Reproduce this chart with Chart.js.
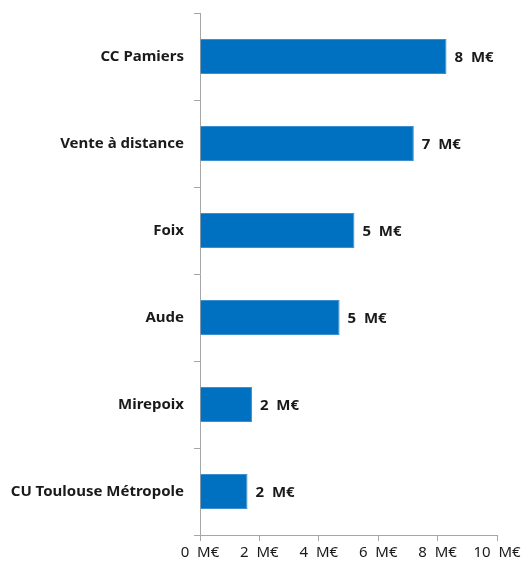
<!DOCTYPE html>
<html>
<head>
<meta charset="utf-8">
<script src="https://cdn.jsdelivr.net/npm/chart.js@4"></script>
<style>
  html, body { margin: 0; padding: 0; background: #fff; }
  #wrap { width: 532px; height: 562px; }
</style>
</head>
<body>
<div id="wrap"><canvas id="barChart"></canvas></div>
<script>
// Data
const categories = ["CC Pamiers", "Vente à distance", "Foix", "Aude", "Mirepoix", "CU Toulouse Métropole"];
const amounts = [8.3, 7.2, 5.2, 4.7, 1.75, 1.6];
const valueLabels = ["8  M€", "7  M€", "5  M€", "5  M€", "2  M€", "2  M€"];
const xTicks = [0, 2, 4, 6, 8, 10];

const FONT = "'Noto Sans', sans-serif";
const AXIS_GREY = "#a6a6a6";

// small plugin: writes the value label at the end of each bar
const barEndLabels = {
  id: "barEndLabels",
  afterDatasetsDraw(chart) {
    const ctx = chart.ctx;
    const meta = chart.getDatasetMeta(0);
    ctx.save();
    ctx.font = "bold 15px " + FONT;
    ctx.fillStyle = "#1a1a1a";
    ctx.textAlign = "left";
    ctx.textBaseline = "middle";
    meta.data.forEach((bar, i) => {
      ctx.fillText(valueLabels[i], bar.x + 8, bar.y + 1);
    });
    ctx.restore();
  }
};

const ctx = document.getElementById("barChart").getContext("2d");
new Chart(ctx, {
  type: "bar",
  data: {
    labels: categories,
    datasets: [{
      data: amounts,
      backgroundColor: "#0070c0",
      borderColor: "#3d8fd0",
      borderWidth: 1,
      borderSkipped: "left",
      barPercentage: 0.8,
      categoryPercentage: 0.5
    }]
  },
  options: {
    indexAxis: "y",
    responsive: true,
    maintainAspectRatio: false,
    animation: false,
    layout: { padding: { left: 0, right: 35, top: 13, bottom: 0 } },
    plugins: {
      legend: { display: false },
      tooltip: { enabled: false }
    },
    scales: {
      y: {
        offset: true,
        grid: {
          offset: true,
          drawOnChartArea: false,
          color: AXIS_GREY,
          tickLength: 6
        },
        border: { color: AXIS_GREY },
        ticks: {
          color: "#1a1a1a",
          padding: 10,
          font: { family: FONT, size: 15, weight: "bold" }
        },
        afterFit(scale) {
          scale.width = 200;
          scale.paddingTop = 0;
          scale.paddingBottom = 0;
        }
      },
      x: {
        min: 0,
        max: 10,
        afterBuildTicks(scale) {
          scale.ticks = xTicks.map(v => ({ value: v }));
        },
        grid: {
          drawOnChartArea: false,
          color: AXIS_GREY,
          tickLength: 6
        },
        border: { color: AXIS_GREY },
        ticks: {
          color: "#1a1a1a",
          padding: 3,
          font: { family: FONT, size: 15 },
          callback: v => v + "  M€"
        },
        afterFit(scale) { scale.height = 27; }
      }
    }
  },
  plugins: [barEndLabels]
});
</script>
</body>
</html>
